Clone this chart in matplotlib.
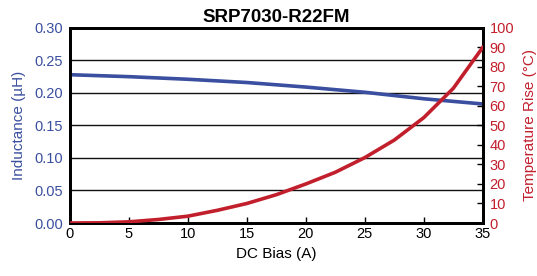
import matplotlib
matplotlib.use("Agg")
import matplotlib.pyplot as plt

plt.rcParams['font.family'] = ['Liberation Sans', 'DejaVu Sans']

# DC bias (A)
bias = [0, 2.5, 5, 7.5, 10, 12.5, 15, 17.5, 20, 22.5, 25, 27.5, 30, 32.5, 35]
# inductance (uH)
inductance = [0.228, 0.2265, 0.225, 0.223, 0.221, 0.2185, 0.216, 0.2125, 0.209, 0.205,
              0.201, 0.196, 0.191, 0.187, 0.183]
# temperature rise (C)
temp_rise = [0, 0.1, 0.6, 1.8, 3.5, 6.5, 10, 14.5, 20, 26, 33.5, 42.5, 54, 69, 90]

x_ticks = [0, 5, 10, 15, 20, 25, 30, 35]
l_ticks = [0.00, 0.05, 0.10, 0.15, 0.20, 0.25, 0.30]
r_ticks = list(range(0, 101, 10))

blue = '#3a4f9f'
red = '#c21f2d'

fig = plt.figure(figsize=(5.37, 2.76), dpi=100)
ax = fig.add_axes([0.130, 0.192, 0.769, 0.707])
ax2 = ax.twinx()

ax.plot(bias, inductance, color=blue, lw=2.6, zorder=3)
ax2.plot(bias, temp_rise, color=red, lw=2.6, zorder=3)

ax.set_xlim(0, 35)
ax.set_ylim(0, 0.30)
ax2.set_ylim(0, 100)
ax.set_xticks(x_ticks)
ax.set_yticks(l_ticks)
ax.set_yticklabels([f"{v:.2f}" for v in l_ticks])
ax2.set_yticks(r_ticks)

ax.grid(axis='y', color='#111111', lw=1.0)
ax.set_axisbelow(True)

ax.tick_params(axis='x', direction='in', length=4, width=1, labelsize=10.5, pad=3)
ax.tick_params(axis='y', length=0, labelsize=10.5, labelcolor=blue, pad=5)
ax2.tick_params(axis='y', direction='in', length=4, width=1, labelsize=10.5,
                labelcolor=red, pad=5)

for a in (ax, ax2):
    for s in a.spines.values():
        s.set_linewidth(2)
        s.set_color('black')

ax.set_xlabel('DC Bias (A)', fontsize=11, labelpad=4)
ax.set_ylabel('Inductance (\u00b5H)', fontsize=11, color=blue, labelpad=6)
ax2.set_ylabel('Temperature Rise (\u00b0C)', fontsize=11, color=red, labelpad=6)
ax.set_title('SRP7030-R22FM', fontsize=13.5, fontweight='bold', pad=4)

fig.savefig('out.png', dpi=100)
